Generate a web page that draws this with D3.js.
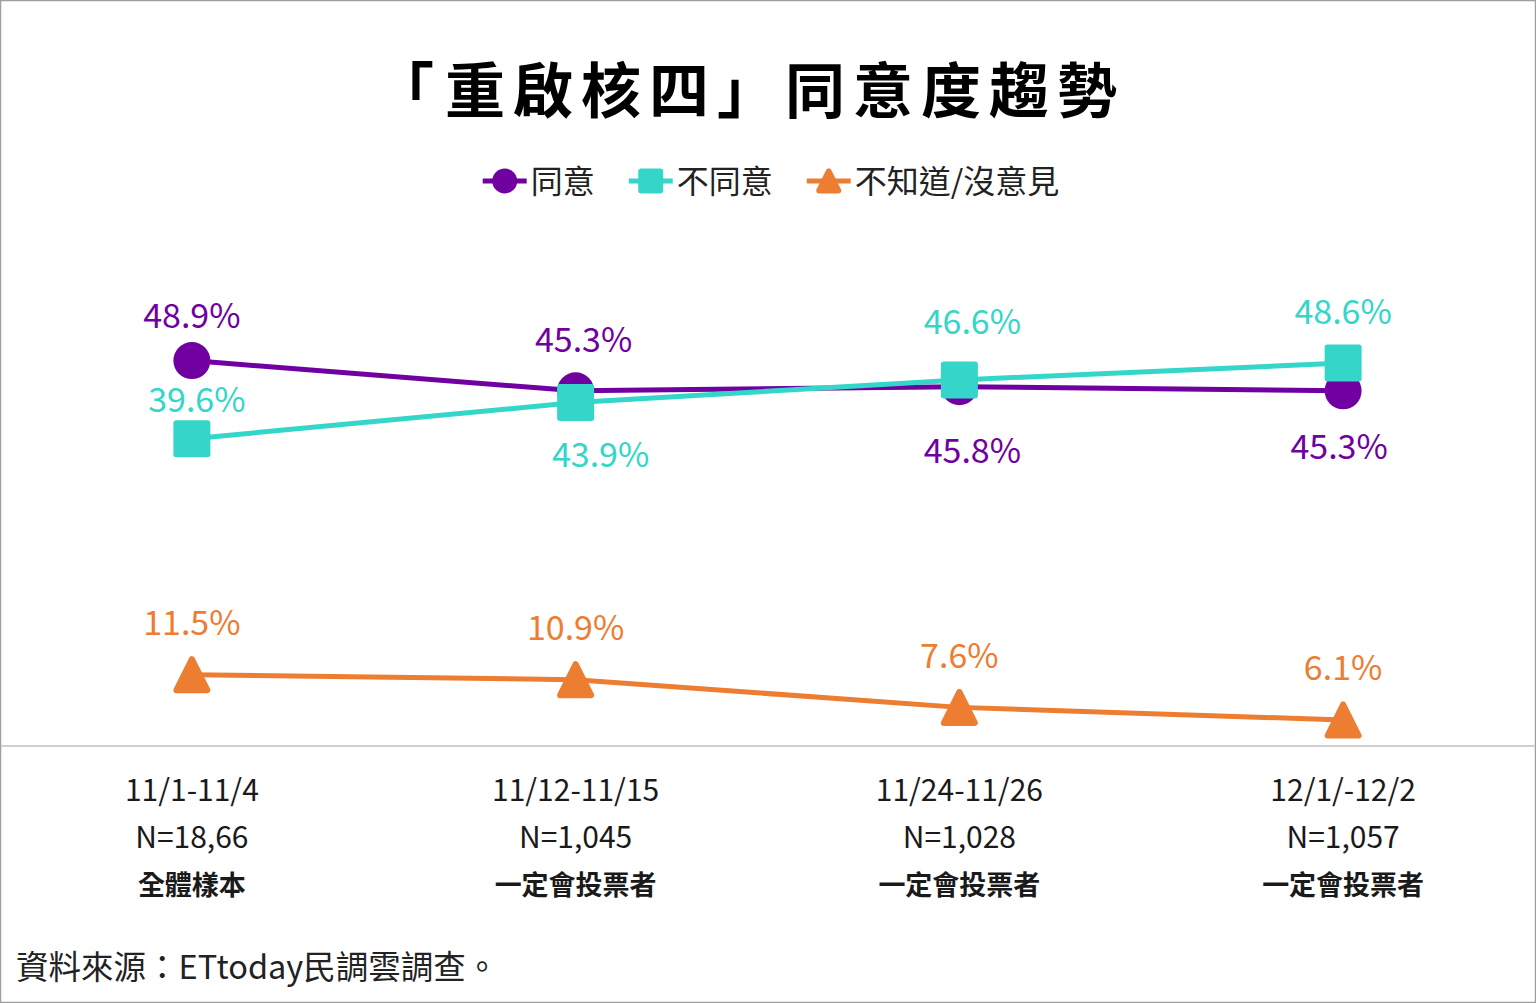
<!DOCTYPE html>
<html>
<head>
<meta charset="utf-8">
<script src="https://cdn.jsdelivr.net/npm/d3@7"></script>
<style>
  html, body { margin: 0; padding: 0; background: #fff; }
  svg { display: block; font-family: "Noto Sans CJK TC", "Noto Sans", sans-serif; }
</style>
</head>
<body>
<div id="chart"></div>
<script>
// survey periods and sample info (x axis, three lines each)
const periods = ["11/1-11/4", "11/12-11/15", "11/24-11/26", "12/1/-12/2"];
const sampleSizes = ["N=18,66", "N=1,045", "N=1,028", "N=1,057"];
const sampleGroups = ["全體樣本", "一定會投票者", "一定會投票者", "一定會投票者"];

// series values (%)
const seriesNames = ["同意", "不同意", "不知道/沒意見"];
const agree = [48.9, 45.3, 45.8, 45.3];
const disagree = [39.6, 43.9, 46.6, 48.6];
const unsure = [11.5, 10.9, 7.6, 6.1];

const titleOpen = "「";
const titleRest = "重啟核四」同意度趨勢";
const sourceText = "資料來源：ETtoday民調雲調查。";

const w = 1536, h = 1003;
const colors = ["#7000a0", "#33d6c8", "#ed7d31"];
const shapes = ["circle", "square", "triangle"];
// label offsets from the marker, [dx, dy] per point
const labelOffsets = [
  [[0, -47], [8, -53], [13, 62], [-4, 54]],
  [[5, -41], [25, 50], [13, -60], [0, -54]],
  [[0, -54], [0, -54], [0, -54], [0, -54]]
];

const series = [agree, disagree, unsure].map((vals, i) => ({
  name: seriesNames[i], values: vals, color: colors[i], shape: shapes[i], offs: labelOffsets[i]
}));

const svg = d3.select("#chart").append("svg")
  .attr("width", w).attr("height", h);

svg.append("rect").attr("x", 0.5).attr("y", 0.5)
  .attr("width", w - 1).attr("height", h - 1)
  .attr("fill", "#fff").attr("stroke", "#a0a0a0").attr("stroke-width", 1.5);

const x = d3.scalePoint().domain(periods).range([0, w - 1]).padding(0.5);
const y = d3.scaleLinear().domain([3, 60]).range([746, 267.4]);

// baseline
svg.append("line")
  .attr("x1", 1).attr("x2", w - 1)
  .attr("y1", y(3)).attr("y2", y(3))
  .attr("stroke", "#d0d0d0").attr("stroke-width", 2);

// title
const title = svg.append("text")
  .attr("x", 374).attr("y", 86)
  .attr("dominant-baseline", "central")
  .attr("font-size", 60).attr("font-weight", 700).attr("fill", "#000")
  .attr("letter-spacing", 8);
title.append("tspan").text(titleOpen);
title.append("tspan").attr("dx", 3).text(titleRest);

function marker(g, shape, color, s) {
  // s = half size
  if (shape === "circle") {
    g.append("ellipse").attr("rx", s).attr("ry", s).attr("fill", color);
  } else if (shape === "square") {
    g.append("rect").attr("x", -s).attr("y", -s).attr("width", 2 * s).attr("height", 2 * s)
      .attr("rx", 3).attr("fill", color);
  } else {
    const r = 3;
    g.append("path")
      .attr("d", `M0,${-s + r}L${s - r},${s - r}L${-s + r},${s - r}Z`)
      .attr("fill", color).attr("stroke", color)
      .attr("stroke-width", 2 * r).attr("stroke-linejoin", "round");
  }
}

// lines
const line = d3.line().x((d, i) => x(periods[i])).y(d => y(d));
series.forEach(s => {
  svg.append("path").datum(s.values)
    .attr("d", line)
    .attr("fill", "none").attr("stroke", s.color).attr("stroke-width", 5);
});

// markers
series.forEach(s => {
  s.values.forEach((v, i) => {
    const g = svg.append("g").attr("transform", `translate(${x(periods[i])},${y(v)})`);
    marker(g, s.shape, s.color, 18.5);
  });
});

// value labels
series.forEach(s => {
  svg.append("g").selectAll("text").data(s.values).enter()
    .append("text")
    .attr("x", (d, i) => x(periods[i]) + s.offs[i][0])
    .attr("y", (d, i) => y(d) + s.offs[i][1])
    .attr("text-anchor", "middle").attr("dominant-baseline", "central")
    .attr("font-size", 34).attr("fill", s.color)
    .text(d => d.toFixed(1) + "%");
});

// legend
const legend = svg.append("g");
let lx = 0;
series.forEach(s => {
  const g = legend.append("g").attr("transform", `translate(${lx},0)`);
  g.append("line").attr("x1", 0).attr("x2", 44).attr("stroke", s.color).attr("stroke-width", 5);
  const m = g.append("g").attr("transform", "translate(22,0)");
  marker(m, s.shape, s.color, 12.5);
  const t = g.append("text").attr("x", 48).attr("y", -2).attr("dominant-baseline", "central")
    .attr("font-size", 32).attr("fill", "#222").text(s.name);
  lx += 48 + t.node().getComputedTextLength() + 34;
});
const lw = lx - 34;
legend.attr("transform", `translate(${771 - lw / 2},181)`);

// x axis labels
const rows = [periods, sampleSizes, sampleGroups];
const rowY = [788, 835, 883];
rows.forEach((row, r) => {
  svg.append("g").selectAll("text").data(row).enter()
    .append("text")
    .attr("x", (d, i) => x(periods[i]))
    .attr("y", rowY[r])
    .attr("text-anchor", "middle").attr("dominant-baseline", "central")
    .attr("font-size", r === 2 ? 27 : 30)
    .attr("font-weight", r === 2 ? 700 : 400)
    .attr("fill", "#1a1a1a")
    .text(d => d);
});

// source
svg.append("text")
  .attr("x", 16).attr("y", 964)
  .attr("dominant-baseline", "central")
  .attr("font-size", 32.5).attr("fill", "#222")
  .text(sourceText);
</script>
</body>
</html>
